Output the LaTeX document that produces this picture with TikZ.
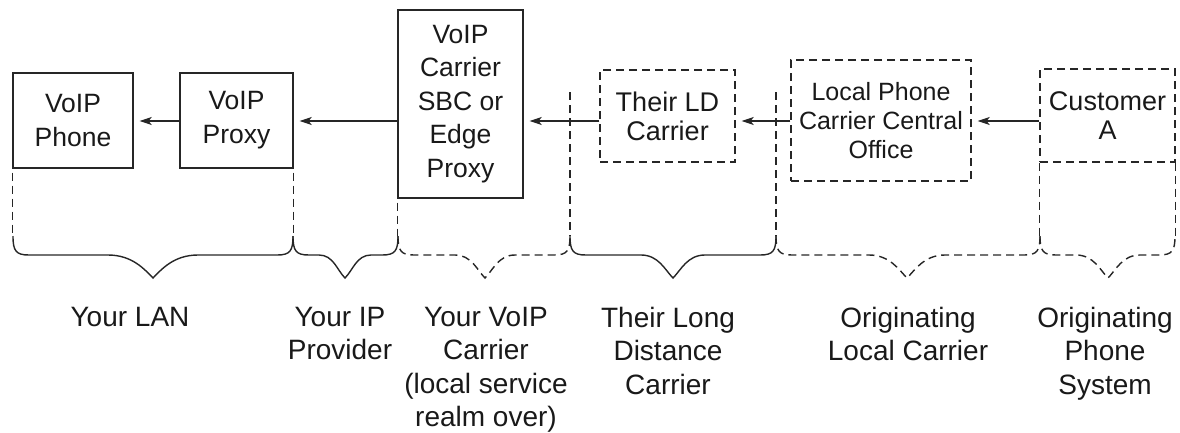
\documentclass[tikz,border=0pt]{standalone}
\usepackage{fontspec}
\setmainfont{Liberation Sans}
\usetikzlibrary{arrows.meta}

\newcommand\lblfnt{\fontsize{28}{33.5}\selectfont}
\newcommand\boxfnt{\fontsize{26.5}{34}\selectfont}
\newcommand\tallfnt{\fontsize{26.5}{33.5}\selectfont}
\newcommand\midfnt{\fontsize{27}{29}\selectfont}
\newcommand\smlfnt{\fontsize{25}{29}\selectfont}

% a curly span marker: left x, right x, tip x, shoulder half-width
\newcommand\spanbrace[4]{%
  (#1,236) .. controls (#1,251) and (#1+3,255) .. (#1+16,255)
  -- (#3-#4,255) .. controls (#3-#4*0.45,255) and (#3-8,270) .. (#3,278)
  .. controls (#3+8,270) and (#3+#4*0.45,255) .. (#3+#4,255)
  -- (#2-16,255) .. controls (#2-3,255) and (#2,251) .. (#2,236)}

\begin{document}
\begin{tikzpicture}[x=1pt,y=-1pt,
  line/.style={draw=black!85,line width=1.4pt},
  dsh/.style={dash pattern=on 8pt off 5pt},
  solidbox/.style={line,rectangle,inner sep=0pt,align=center,text=black!90},
  dashbox/.style={solidbox,dsh},
  flow/.style={line,-{Stealth[length=12pt,width=8pt,inset=3pt]},shorten >=6pt},
  guide/.style={line,dsh},
  lbl/.style={inner sep=0pt,align=center,font=\lblfnt,text=black!90,anchor=north}]
  \useasboundingbox (0,0) rectangle (1180,432);

  % boxes along the call path
  \node[solidbox,font=\boxfnt,minimum width=120pt,minimum height=95pt] (phone) at (73,120.5) {VoIP\\Phone};
  \node[solidbox,font=\boxfnt,minimum width=113pt,minimum height=95pt] (proxy) at (236.5,120.5) {VoIP\\Proxy};
  \node[solidbox,font=\tallfnt,minimum width=125pt,minimum height=188pt] (sbc) at (460.5,104) {VoIP\\Carrier\\SBC or\\Edge\\Proxy};
  \node[dashbox,font=\midfnt,minimum width=135pt,minimum height=92pt] (ld) at (667.5,116) {Their LD\\Carrier};
  \node[dashbox,font=\smlfnt,minimum width=180pt,minimum height=121pt] (local) at (881,120.5) {Local Phone\\Carrier Central\\Office};
  \node[dashbox,font=\midfnt,minimum width=135pt,minimum height=93pt] (cust) at (1107.5,115.5) {Customer\\A};

  % signal flow
  \coordinate (lvl) at (0,121);
  \draw[flow] (proxy.west |- lvl) -- (phone.east |- lvl);
  \draw[flow] (sbc.west |- lvl) -- (proxy.east |- lvl);
  \draw[flow] (ld.west |- lvl) -- (sbc.east |- lvl);
  \draw[flow] (local.west |- lvl) -- (ld.east |- lvl);
  \draw[flow] (cust.west |- lvl) -- (local.east |- lvl);

  % boundary guides
  \coordinate (g4) at (570,92);
  \coordinate (g5) at (776,92);
  \draw[guide] ([yshift=-4pt]phone.south west) -- (phone.south west |- 0,236);
  \draw[guide] ([yshift=-4pt]proxy.south east) -- (proxy.south east |- 0,236);
  \draw[guide] ([yshift=-4pt]sbc.south west) -- (sbc.south west |- 0,236);
  \draw[guide] (g4) -- (g4 |- 0,236);
  \draw[guide] (g5) -- (g5 |- 0,236);
  \draw[guide] (cust.south west) -- (cust.south west |- 0,236);
  \draw[guide] (cust.south east) -- (cust.south east |- 0,236);

  % span braces
  \draw[line] \spanbrace{13}{293}{153}{45};
  \draw[line] \spanbrace{293}{398}{345}{26};
  \draw[line,dsh] \spanbrace{398}{570}{485}{30};
  \draw[line] \spanbrace{570}{776}{673}{32};
  \draw[line,dsh] \spanbrace{776}{1040}{907}{38};
  \draw[line,dsh] \spanbrace{1040}{1175}{1108}{32};

  % span labels
  \node[lbl] (lan) at (130,307) {Your LAN};
  \node[lbl] (ipp) at (340,307) {Your IP\\Provider};
  \node[lbl] (vc) at (486,307) {Your VoIP\\Carrier\\(local service\\realm over)};
  \node[lbl] (ldc) at (668,307) {Their Long\\Distance\\Carrier};
  \node[lbl] (olc) at (908,307) {Originating\\Local Carrier};
  \node[lbl] (ops) at (1105,307) {Originating\\Phone\\System};
\end{tikzpicture}
\end{document}
